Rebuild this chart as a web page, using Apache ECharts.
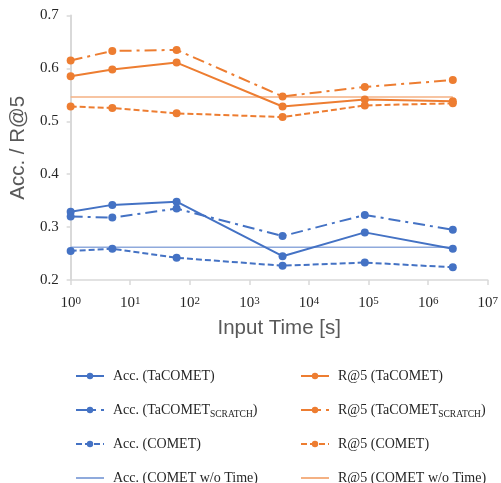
<!DOCTYPE html>
<html>
<head>
<meta charset="utf-8">
<script src="https://cdn.jsdelivr.net/npm/echarts@6/dist/echarts.min.js"></script>
<style>html,body{margin:0;padding:0;background:#fff;}#c{width:501px;height:483px;}</style>
</head>
<body>
<div id="c"></div>
<script>
const times = [1, 5, 60, 3600, 86400, 2592000];
const accTaCOMET = [0.329, 0.342, 0.348, 0.245, 0.290, 0.259];
const accScratch = [0.320, 0.318, 0.335, 0.283, 0.323, 0.295];
const accCOMET = [0.255, 0.259, 0.242, 0.227, 0.233, 0.224];
const accNoTime = 0.262;
const r5TaCOMET = [0.585, 0.598, 0.611, 0.528, 0.541, 0.538];
const r5Scratch = [0.615, 0.633, 0.635, 0.547, 0.565, 0.578];
const r5COMET = [0.528, 0.525, 0.515, 0.508, 0.530, 0.534];
const r5NoTime = 0.546;

const BLUE = '#4472C4', ORANGE = '#ED7D31';
const BLUE_L = '#8FAADC', ORANGE_L = '#F4B183';
const DASHDOT = [12, 5, 3, 5];
const DASH = [6, 3];

function pts(vals) { return times.map((t, i) => [t, vals[i]]); }
function flat(v) { return [[times[0], v], [times[times.length - 1], v]]; }

function lineSeries(name, vals, color, type) {
  return {
    name: name, type: 'line', data: pts(vals),
    symbol: 'circle', symbolSize: 8,
    itemStyle: { color: color },
    lineStyle: { color: color, width: 2, type: type },
    z: 3
  };
}
function refSeries(name, v, color) {
  return {
    name: name, type: 'line', data: flat(v), symbol: 'none',
    itemStyle: { color: color },
    lineStyle: { color: color, width: 1.5 },
    z: 2
  };
}

const names = {
  a1: 'Acc. (TaCOMET)', a2: 'Acc. (TaCOMETSCRATCH)', a3: 'Acc. (COMET)', a4: 'Acc. (COMET w/o Time)',
  r1: 'R@5 (TaCOMET)', r2: 'R@5 (TaCOMETSCRATCH)', r3: 'R@5 (COMET)', r4: 'R@5 (COMET w/o Time)'
};

const legendText = {
  fontFamily: 'Liberation Serif', fontSize: 14, color: '#262626', lineHeight: 18,
  padding: [0, 0, 0, 4],
  rich: { sub: { fontFamily: 'Liberation Serif', fontSize: 9.5, verticalAlign: 'bottom', padding: [5, 0, 0, 0], color: '#262626' } }
};
function legendFmt(n) { return n.replace('SCRATCH', '{sub|SCRATCH}'); }

const chart = echarts.init(document.getElementById('c'));
chart.setOption({
  animation: false,
  backgroundColor: '#fff',
  grid: { left: 70, right: 8, top: 15.5, bottom: 203 },
  xAxis: {
    type: 'log', logBase: 10, min: 1, max: 1e7,
    name: 'Input Time [s]', nameLocation: 'middle', nameGap: 38,
    nameTextStyle: { fontFamily: 'Liberation Sans', fontSize: 20.5, color: '#595959' },
    axisLine: { lineStyle: { color: '#d9d9d9', width: 1.5 } },
    axisTick: { show: true, length: 5, lineStyle: { color: '#d9d9d9', width: 1.5 } },
    minorTick: { show: false },
    splitLine: { show: false },
    axisLabel: {
      margin: 16, color: '#262626', fontFamily: 'Liberation Serif', fontSize: 15,
      formatter: function (v) { return '10{sup|' + Math.round(Math.log10(v)) + '}'; },
      rich: { sup: { fontFamily: 'Liberation Serif', fontSize: 11, verticalAlign: 'top', padding: [0, 0, 4, 0], color: '#262626' } }
    }
  },
  yAxis: {
    type: 'value', min: 0.2, max: 0.7, interval: 0.1,
    name: 'Acc. / R@5', nameLocation: 'middle', nameGap: 38,
    nameTextStyle: { fontFamily: 'Liberation Sans', fontSize: 20.5, color: '#595959' },
    axisLine: { show: true, lineStyle: { color: '#d9d9d9', width: 2 } },
    axisTick: { show: true, length: 4, lineStyle: { color: '#d9d9d9', width: 1.5 } },
    splitLine: { show: false },
    axisLabel: {
      margin: 12, color: '#262626', fontFamily: 'Liberation Serif', fontSize: 15,
      formatter: function (v) { return v.toFixed(1); }
    }
  },
  legend: [
    {
      data: [names.a1, names.a2, names.a3, { name: names.a4, itemStyle: { opacity: 0 } }], orient: 'vertical',
      left: 75, top: 367, height: 140, padding: 0, itemWidth: 28, itemHeight: 8, itemGap: 16,
      textStyle: legendText, formatter: legendFmt
    },
    {
      data: [names.r1, names.r2, names.r3, { name: names.r4, itemStyle: { opacity: 0 } }], orient: 'vertical',
      left: 300, top: 367, height: 140, padding: 0, itemWidth: 28, itemHeight: 8, itemGap: 16,
      textStyle: legendText, formatter: legendFmt
    }
  ],
  series: [
    lineSeries(names.a1, accTaCOMET, BLUE, 'solid'),
    lineSeries(names.a2, accScratch, BLUE, DASHDOT),
    lineSeries(names.a3, accCOMET, BLUE, DASH),
    refSeries(names.a4, accNoTime, BLUE_L),
    lineSeries(names.r1, r5TaCOMET, ORANGE, 'solid'),
    lineSeries(names.r2, r5Scratch, ORANGE, DASHDOT),
    lineSeries(names.r3, r5COMET, ORANGE, DASH),
    refSeries(names.r4, r5NoTime, ORANGE_L)
  ]
});
</script>
</body>
</html>
